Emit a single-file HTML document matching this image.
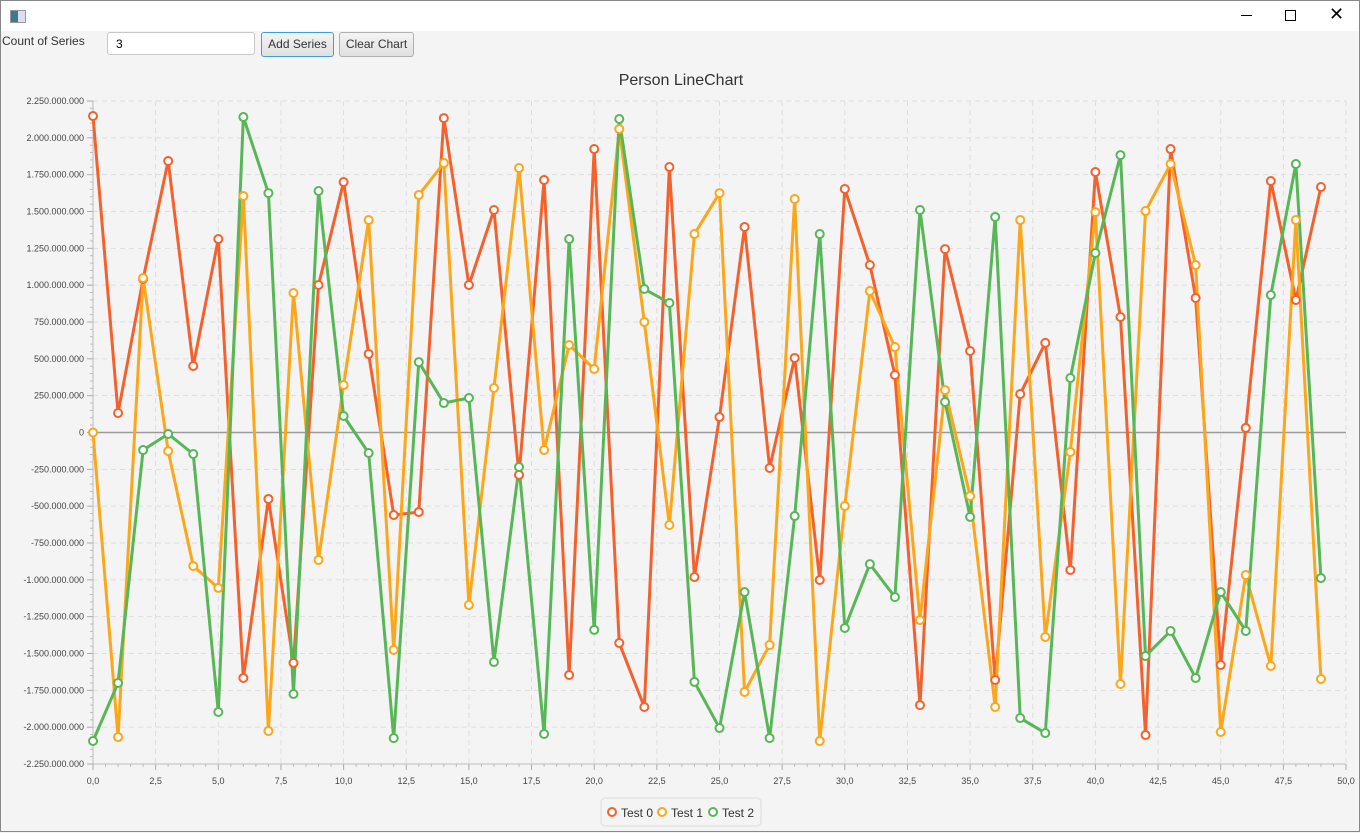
<!DOCTYPE html>
<html><head><meta charset="utf-8"><style>
body{margin:0;width:1360px;height:832px;overflow:hidden;background:#f4f4f4;font-family:"Liberation Sans",sans-serif;}
#win{position:absolute;left:0;top:0;width:1358px;height:830px;border:1px solid #888;background:#f4f4f4;}
#titlebar{position:absolute;left:0;top:0;width:1358px;height:30px;background:#fff;}
.ctl{position:absolute;font-size:13px;color:#333;}
</style></head><body>
<div id="win">
<div id="titlebar">
 <div style="position:absolute;left:9px;top:9px;width:14px;height:11px;border:1px solid #999;background:linear-gradient(90deg,#3a7a8a 50%,#dde 50%);"></div>
 <div style="position:absolute;left:1240px;top:14px;width:11px;height:1px;background:#000;"></div>
 <div style="position:absolute;left:1284px;top:9px;width:9px;height:9px;border:1px solid #000;"></div>
 <div style="position:absolute;left:1328px;top:3px;font-size:18px;color:#000;">✕</div>
</div>
<div class="ctl" style="left:1px;top:33px;font-size:12px;">Count of Series</div>
<div style="position:absolute;left:106px;top:31px;width:146px;height:23px;background:#fff;border:1px solid #c8c8c8;border-radius:3px;font-size:12px;line-height:23px;padding-left:8px;box-sizing:border-box;width:148px;">3</div>
<div style="position:absolute;left:260px;top:31px;width:73px;height:25px;box-sizing:border-box;border:1px solid #3c9fdc;border-radius:3px;background:linear-gradient(#f4f4f4,#e0e0e0);font-size:12px;text-align:center;line-height:23px;color:#333;">Add Series</div>
<div style="position:absolute;left:338px;top:31px;width:75px;height:25px;box-sizing:border-box;border:1px solid #b0b0b0;border-radius:3px;background:linear-gradient(#f4f4f4,#e0e0e0);font-size:12px;text-align:center;line-height:23px;color:#333;">Clear Chart</div>
<svg id="chart" width="1360" height="832" style="position:absolute;left:0;top:0"></svg>
</div>
<script>
const categories=[];for(let i=0;i<50;i++)categories.push(i);
const test0=[2148,132,1042,1843,451,1313,-1666,-451,-1564,1001,1700,533,-560,-540,2134,1001,1510,-288,1714,-1646,1924,-1429,-1863,1802,-981,105,1395,-241,506,-1001,1653,1137,390,-1850,1245,553,-1680,261,608,-933,1768,784,-2053,1924,913,-1578,31,1707,899,1666];
const test1=[0,-2067,1049,-126,-906,-1055,1605,-2026,947,-865,322,1442,-1476,1612,1829,-1171,302,1795,-119,594,431,2060,750,-628,1347,1625,-1761,-1442,1585,-2094,-499,960,580,-1273,288,-431,-1863,1442,-1388,-132,1496,-1707,1503,1822,1137,-2033,-967,-1585,1442,-1673];
const test2=[-2094,-1700,-119,-10,-146,-1897,2141,1625,-1775,1639,112,-139,-2074,478,200,234,-1558,-234,-2046,1313,-1340,2128,974,879,-1693,-2006,-1083,-2074,-567,1347,-1327,-893,-1117,1510,207,-573,1463,-1938,-2040,370,1218,1883,-1517,-1347,-1666,-1083,-1347,933,1822,-988];
const seriesNames=["Test 0","Test 1","Test 2"];
const yTicks=[2250,2000,1750,1500,1250,1000,750,500,250,0,-250,-500,-750,-1000,-1250,-1500,-1750,-2000,-2250];
const xTicks=[0,2.5,5,7.5,10,12.5,15,17.5,20,22.5,25,27.5,30,32.5,35,37.5,40,42.5,45,47.5,50];
const colors=["#f3622d","#fba71b","#57b757"];
const X0=92,X1=1345,Y0=100,Y1=763;
const xs=v=>X0+(v-0)/50*(X1-X0);
const ys=v=>Y0+(2250-v)/4500*(Y1-Y0);
const svg=document.getElementById('chart');const NS='http://www.w3.org/2000/svg';
function mk(t,a,p){const e=document.createElementNS(NS,t);for(const k in a)e.setAttribute(k,a[k]);(p||svg).appendChild(e);return e;}
const fmt=v=>{if(v===0)return '0';const s=Math.abs(v*1e6).toString().replace(/\B(?=(\d{3})+(?!\d))/g,'.');return (v<0?'-':'')+s;};
let t=mk('text',{x:680,y:84,'text-anchor':'middle','font-size':16,fill:'#333'});t.textContent='Person LineChart';


yTicks.forEach(v=>{const y=ys(v);
 const g=mk('line',{x1:X0,x2:X1,y1:y,y2:y,stroke:v===0?'#9a9a9a':'#ddd','stroke-width':v===0?1.5:1,'stroke-dasharray':v===0?'':'5,4'});
 
 
 mk('line',{x1:X0-6,x2:X0,y1:y,y2:y,stroke:'#aaa'});
 const l=mk('text',{x:X0-9,y:y+3,'text-anchor':'end','font-size':9,fill:'#444'});l.textContent=fmt(v);
 
 
 if(v>-2250){for(let k=1;k<5;k++){const yy=y+k*(ys(v-250)-y)/5;mk('line',{x1:X0-3,x2:X0,y1:yy,y2:yy,stroke:'#bbb'});}}
});
xTicks.forEach(v=>{const x=xs(v);
 if(v>0){const g=mk('line',{x1:x,x2:x,y1:Y0,y2:Y1,stroke:'#ddd','stroke-dasharray':'5,4'});
 
 }
 mk('line',{x1:x,x2:x,y1:Y1,y2:Y1+6,stroke:'#aaa'});
 const l=mk('text',{x:x,y:Y1+20,'text-anchor':'middle','font-size':9,fill:'#444'});l.textContent=v.toFixed(1).replace('.',',');
 
 
 if(v<50){for(let k=1;k<5;k++){const xx=x+k*(xs(v+2.5)-x)/5;mk('line',{x1:xx,x2:xx,y1:Y1,y2:Y1+3,stroke:'#bbb'});}}
});
mk('line',{x1:X0,x2:X0,y1:Y0,y2:Y1,stroke:'#bbb'});
mk('line',{x1:X0,x2:X1,y1:Y1,y2:Y1,stroke:'#bbb'});
[test0,test1,test2].forEach((d,si)=>{
 const p=mk('polyline',{points:d.map((v,i)=>xs(categories[i])+','+ys(v)).join(' '),fill:'none',stroke:colors[si],'stroke-width':3,'stroke-linejoin':'round'});
 
 
});
[test0,test1,test2].forEach((d,si)=>{d.forEach((v,i)=>{
 const c=mk('circle',{cx:xs(categories[i]),cy:ys(v),r:4,fill:'#fff',stroke:colors[si],'stroke-width':2});
 
 
});});
const lg=mk('rect',{x:600,y:797,width:160,height:28,rx:4,fill:'#f4f4f4',stroke:'#ddd'});


const lx=[611,661,712];
seriesNames.forEach((n,i)=>{
 mk('circle',{cx:lx[i],cy:811,r:4,fill:'#fff',stroke:colors[i],'stroke-width':2});
 const l=mk('text',{x:lx[i]+9,y:816,'font-size':12,fill:'#333'});l.textContent=n;
 
 
});
</script>
</body></html>
